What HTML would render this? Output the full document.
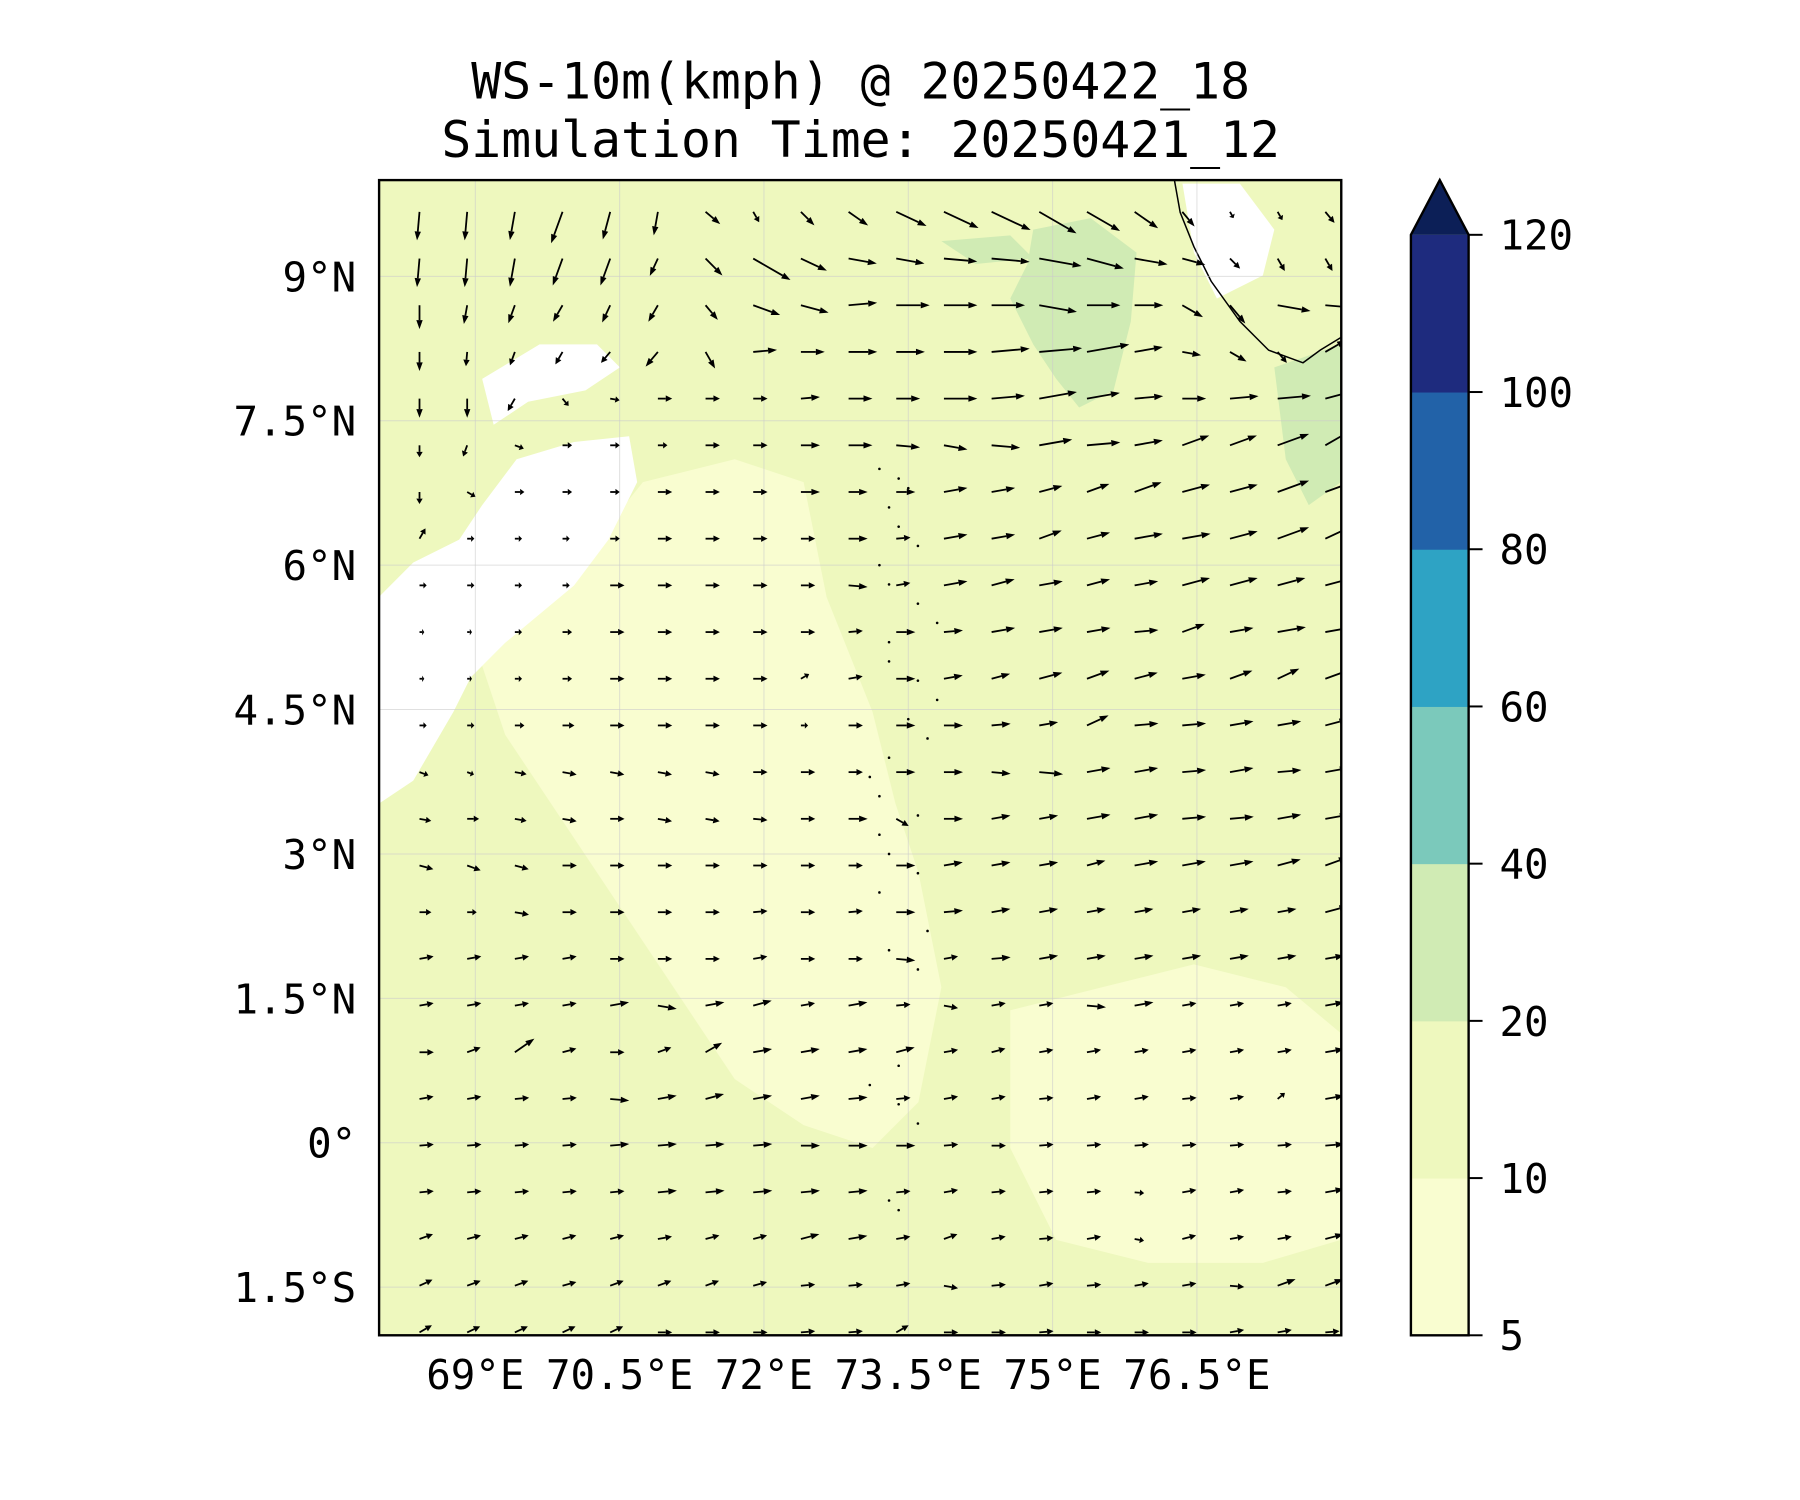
<!DOCTYPE html>
<html><head><meta charset="utf-8"><style>
html,body{margin:0;padding:0;background:#fff}
svg{display:block}
text{font-family:"DejaVu Sans Mono","Liberation Mono",monospace;fill:#000}
</style></head><body>
<svg id="fig" width="1800" height="1500" viewBox="0 0 1800 1500" xmlns="http://www.w3.org/2000/svg">
<g transform="scale(0.995)">
<text x="865" y="99" font-size="50" text-anchor="middle">WS-10m(kmph) @ 20250422_18</text>
<text x="865" y="158" font-size="50" text-anchor="middle">Simulation Time: 20250421_12</text>
<clipPath id="mapclip"><rect x="381" y="181" width="967" height="1161"/></clipPath>
<g id="map" clip-path="url(#mapclip)">
<rect x="381" y="181" width="967" height="1161" fill="#eef8be"/>
<g transform="scale(1.1538)">
<path d="M560,420 L640,400 L700,420 L720,520 L760,620 L780,700 L800,760 L820,860 L800,960 L760,1000 L700,980 L640,940 L600,880 L560,820 L520,760 L480,700 L440,640 L420,580 L480,520 Z" fill="#f9fdd0"/>
<path d="M880,880 L960,860 L1040,840 L1120,860 L1168,900 L1168,1080 L1100,1100 L1000,1100 L920,1080 L880,1000 Z" fill="#f9fdd0"/>
<path d="M330,700 L360,680 L395,620 L410,590 L440,560 L500,510 L530,470 L555,420 L548,380 L500,385 L450,400 L420,440 L400,470 L360,490 L330,520 Z" fill="#ffffff"/>
<path d="M420,330 L470,300 L520,300 L540,320 L510,340 L460,350 L430,370 Z" fill="#ffffff"/>
<path d="M900,200 L950,190 L990,220 L985,280 L970,340 L940,355 L920,330 L900,300 L880,260 L895,230 Z" fill="#d0ebb4"/>
<path d="M820,210 L880,205 L900,225 L850,230 Z" fill="#d0ebb4"/>
<path d="M1110,320 L1168,300 L1168,420 L1140,440 L1120,400 Z" fill="#d0ebb4"/>
<path d="M1030,160 L1080,160 L1110,200 L1100,240 L1060,260 L1040,220 Z" fill="#ffffff"/>
<path d="M1023,157 L1028,185 L1040,215 L1055,245 L1080,280 L1105,305 L1135,316 L1150,305 L1168,294" fill="none" stroke="#000" stroke-width="1.3"/>
</g>
<g id="grid"></g>
<g id="islands"></g>
<g id="quiver"></g>
</g>
<rect x="381" y="181" width="967" height="1161" fill="none" stroke="#000" stroke-width="2.4"/>
<g id="axes"></g>
<g id="cbar"></g>
</g>
</svg>
<script>
const NS="http://www.w3.org/2000/svg";
const latTicks=[9,7.5,6,4.5,3,1.5,0,-1.5];
const latLabels=["9°N","7.5°N","6°N","4.5°N","3°N","1.5°N","0°","1.5°S"];
const lonTicks=[69,70.5,72,73.5,75,76.5];
const lonLabels=["69°E","70.5°E","72°E","73.5°E","75°E","76.5°E"];
const cbLevels=[5,10,20,40,60,80,100,120];
const cbColors=["#f9fdd0","#eef8be","#d0ebb4","#7bc9bb","#2ea3c4","#2262a8","#1e2b7e"];
// wind direction (deg, 0=east, +north) per row, top row first
const windDir=[
[-95,-95,-100,-110,-105,-100,-40,-60,-45,-35,-25,-25,-25,-30,-30,-35,-50,-60,-60,-50],
[-95,-95,-100,-110,-110,-115,-45,-30,-25,-10,-10,-5,-5,-10,-15,-10,-15,-45,-60,-60],
[-90,-100,-110,-120,-115,-120,-50,-20,-15,5,0,0,0,-10,0,0,-30,-50,-10,-5],
[-90,-95,-110,-120,-130,-130,-60,5,0,0,0,0,5,5,10,10,-10,-30,-50,30],
[-90,-90,-120,-50,-10,0,0,0,5,0,0,0,5,10,10,5,0,5,5,15],
[-90,-110,-20,0,0,0,0,0,0,0,-5,-10,-5,10,5,10,20,20,20,30],
[-90,-30,0,0,0,0,0,0,0,0,0,10,10,15,20,20,15,15,20,20],
[60,0,0,0,0,0,0,0,0,0,5,10,10,20,15,10,10,15,20,25],
[0,0,0,0,0,0,0,0,0,-5,10,10,15,10,15,10,15,15,15,15],
[0,0,0,0,0,0,0,0,0,5,0,5,10,10,10,5,20,10,10,10],
[0,0,0,0,0,0,0,0,30,10,0,10,15,15,20,15,10,20,25,20],
[0,0,0,0,0,0,0,0,0,0,0,0,5,10,25,5,5,10,10,15],
[-20,-20,-10,-10,-10,-10,-10,0,0,0,0,0,-5,-5,10,10,5,10,5,10],
[-10,0,-10,-10,0,-10,-10,-5,0,0,-30,0,10,10,10,10,5,5,10,10],
[-15,-20,-15,0,0,0,0,0,0,0,0,10,10,10,15,10,10,10,15,20],
[0,0,-10,0,0,0,0,5,0,5,0,5,10,10,10,10,10,10,10,15],
[10,10,10,10,0,0,0,10,0,0,-5,10,5,10,10,10,10,10,10,10],
[10,10,10,10,10,-10,10,15,10,10,5,-10,10,10,-5,10,10,10,10,10],
[0,20,35,15,0,20,30,10,10,10,15,10,15,10,10,10,10,10,10,10],
[10,10,5,5,-5,10,15,10,10,5,5,10,10,5,10,10,5,10,40,10],
[5,5,5,5,5,5,5,5,0,0,0,5,0,5,5,5,5,5,5,5],
[5,5,5,5,5,5,5,5,5,5,5,10,5,5,5,-5,10,10,5,10],
[20,15,15,15,15,10,15,15,15,10,10,20,10,5,10,-10,15,10,10,15],
[25,20,20,15,20,20,20,15,5,5,10,-10,5,10,5,10,10,-5,20,20],
[30,25,25,25,25,0,0,0,5,5,30,0,0,5,0,0,0,10,10,5]
];
const windSpeed=[
[12,12,12,14,12,10,8,5,8,10,14,16,18,18,16,12,8,3,4,6],
[12,12,12,12,12,8,10,18,12,12,12,14,16,18,16,14,10,6,6,6],
[10,8,8,8,8,8,8,12,12,12,14,14,14,16,14,12,10,10,14,14],
[8,6,6,6,6,8,8,10,10,12,12,14,16,18,18,12,8,8,6,10],
[8,8,6,4,4,6,6,6,8,10,10,14,14,16,14,12,10,12,14,16],
[5,5,4,4,4,4,6,6,8,10,10,10,12,14,14,12,12,12,14,14],
[5,4,4,4,4,6,6,6,8,8,8,10,10,10,10,12,12,12,14,12],
[5,3,3,3,4,6,6,6,6,8,6,10,10,10,10,12,12,12,14,12],
[3,3,3,3,6,6,6,6,6,8,6,10,10,10,10,10,12,12,12,12],
[2,2,3,4,6,6,6,6,6,6,8,8,10,10,10,10,10,10,12,12],
[2,2,3,4,6,6,6,6,4,6,8,8,8,10,10,10,10,10,10,12],
[3,3,4,5,6,6,6,6,3,6,8,8,8,8,10,10,10,10,10,10],
[4,3,5,6,6,6,6,6,6,6,8,8,8,10,10,10,10,10,10,10],
[5,5,5,6,6,6,6,6,6,8,6,8,8,8,10,10,10,10,10,10],
[6,6,6,6,6,6,6,6,6,6,8,8,8,8,8,10,10,10,10,10],
[5,4,6,6,6,6,6,6,6,6,8,8,8,8,8,8,8,8,8,10],
[6,6,6,6,6,6,6,6,6,6,8,6,8,8,8,8,8,8,8,8],
[6,6,6,6,8,8,8,8,6,8,6,6,6,6,8,8,6,6,6,8],
[6,6,10,6,6,6,8,8,8,8,8,6,6,6,6,6,6,6,6,8],
[6,6,6,6,8,8,8,8,8,8,6,6,6,6,6,6,6,6,4,8],
[6,6,6,6,8,8,8,8,8,8,8,6,6,6,6,6,6,6,6,8],
[6,6,6,6,6,8,8,8,8,8,6,6,6,6,6,4,6,6,6,8],
[6,6,6,6,6,6,6,6,8,8,6,6,6,6,6,4,6,6,6,8],
[6,6,6,6,6,6,6,6,6,6,6,6,6,6,6,6,6,6,8,8],
[6,6,6,6,6,6,6,6,6,6,6,6,6,6,6,6,6,6,6,6]
];
const islandLat=[7.0,6.9,6.8,6.6,6.4,6.2,6.0,5.8,5.6,5.4,5.2,5.0,4.8,4.6,4.4,4.2,4.0,3.8,3.6,3.4,3.2,3.0,2.8,2.6,2.4,2.2,2.0,1.8,0.8,0.6,0.4,0.2,-0.6,-0.7];
const islandLon=[73.2,73.4,73.5,73.3,73.4,73.6,73.2,73.3,73.6,73.8,73.3,73.3,73.6,73.8,73.5,73.7,73.3,73.1,73.2,73.6,73.2,73.3,73.6,73.2,73.5,73.7,73.3,73.6,73.4,73.1,73.4,73.6,73.3,73.4];

const X0=381,X1=1348,Y0=181,Y1=1342,LON0=68,LON1=78,LAT0=-2,LAT1=10;
const xs=lon=>X0+(lon-LON0)/(LON1-LON0)*(X1-X0);
const ys=lat=>Y0+(LAT1-lat)/(LAT1-LAT0)*(Y1-Y0);
function mk(tag,attrs,parent){const e=document.createElementNS(NS,tag);for(const k in attrs)e.setAttribute(k,attrs[k]);parent.appendChild(e);return e;}

const grid=document.getElementById('grid'),axes=document.getElementById('axes');
latTicks.forEach((la,i)=>{
 const l=mk('line',{x1:X0,x2:X1,y1:ys(la),y2:ys(la),stroke:'#ccc','stroke-width':1,'stroke-opacity':0.6},grid);
 
 
 const t=mk('text',{x:358,y:ys(la)+15,'font-size':41,'text-anchor':'end'},axes);
 t.textContent=latLabels[i];
 
 
});
lonTicks.forEach((lo,i)=>{
 const l=mk('line',{x1:xs(lo),x2:xs(lo),y1:Y0,y2:Y1,stroke:'#ccc','stroke-width':1,'stroke-opacity':0.6},grid);
 
 
 const t=mk('text',{x:xs(lo),y:1396,'font-size':41,'text-anchor':'middle'},axes);
 t.textContent=lonLabels[i];
 
 
});

const isl=document.getElementById('islands');
islandLat.forEach((la,i)=>{
 const d=mk('circle',{cx:xs(islandLon[i]),cy:ys(la),r:1.3,fill:'#000'},isl);
 
 
});

const q=document.getElementById('quiver');
const gLon0=68.42,gLonStep=0.4955,gLat0=9.67,gLatStep=0.485,LEN=2.4;
windDir.forEach((row,r)=>{
 row.forEach((ang,c)=>{
  const sp=windSpeed[r][c];
  const x=xs(gLon0+c*gLonStep),y=ys(gLat0-r*gLatStep);
  const L=sp*LEN,a=ang*Math.PI/180;
  const dx=Math.cos(a),dy=-Math.sin(a);
  const tx=x+dx*L,ty=y+dy*L;
  const h=Math.min(9,L*0.45),w=3.2;
  const bx=tx-dx*h,by=ty-dy*h;
  const g=mk('g',{},q);
  
  
  mk('line',{x1:x,y1:y,x2:bx,y2:by,stroke:'#000','stroke-width':1.8},g);
  mk('polygon',{points:`${tx},${ty} ${bx-dy*w},${by+dx*w} ${bx+dy*w},${by-dx*w}`,fill:'#000'},g);
 });
});

const cb=document.getElementById('cbar');
const CX0=1418,CX1=1476,CT=236,CB=1342,CTIP=181;
const cy=i=>CB-(CB-CT)*i/(cbLevels.length-1);
cbColors.forEach((col,i)=>{
 const r=mk('rect',{x:CX0,y:cy(i+1),width:CX1-CX0,height:cy(i)-cy(i+1)+0.5,fill:col},cb);
 
 
});
const tri=mk('polygon',{points:`${CX0},${CT} ${(CX0+CX1)/2},${CTIP} ${CX1},${CT}`,fill:'#0c1f57'},cb);


const fr=mk('path',{d:`M${CX0},${CB} L${CX0},${CT} L${(CX0+CX1)/2},${CTIP} L${CX1},${CT} L${CX1},${CB} Z`,fill:'none',stroke:'#000','stroke-width':2.4},cb);


cbLevels.forEach((v,i)=>{
 mk('line',{x1:CX1,x2:CX1+14,y1:cy(i),y2:cy(i),stroke:'#000','stroke-width':2},cb);
 const t=mk('text',{x:1507,y:cy(i)+15,'font-size':41},cb);
 t.textContent=v;
 
 
});
</script>
</body></html>
